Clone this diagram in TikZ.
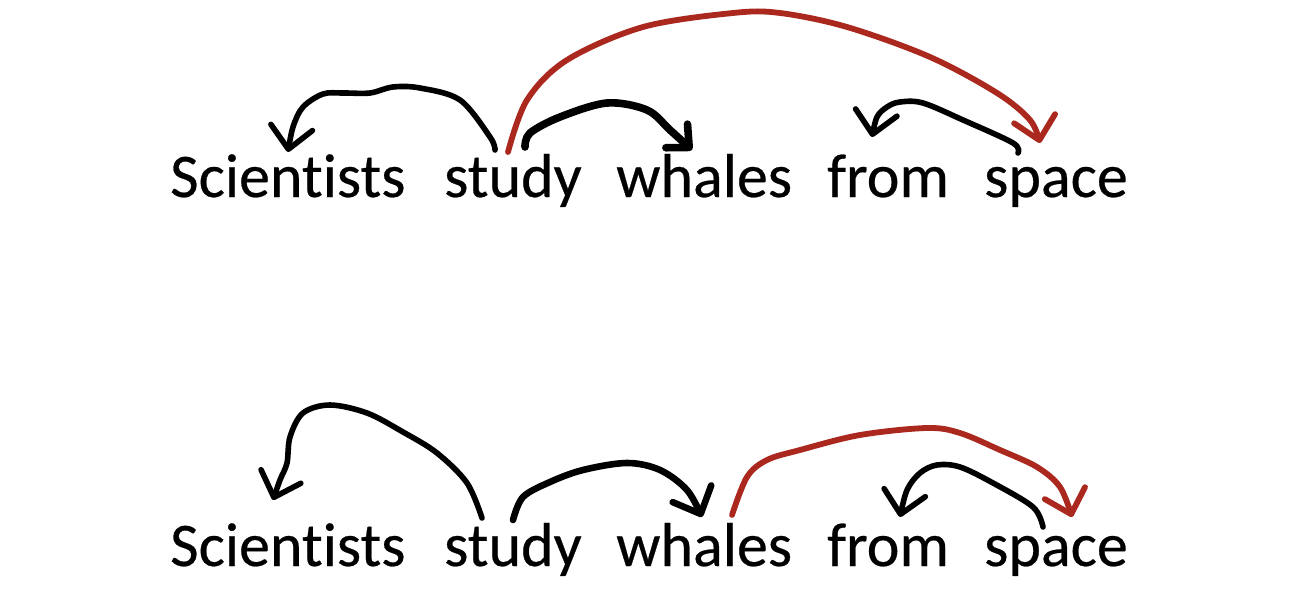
\documentclass[tikz,border=0pt]{standalone}
\usepackage{fontspec}
\setmainfont[Ligatures=NoCommon,FakeBold=0.4]{Carlito}
\usetikzlibrary{arrows.meta}
\definecolor{rootred}{RGB}{170,40,30}

\begin{document}
\begin{tikzpicture}[x=1pt,y=-1pt,
    word/.style ={anchor=base west, inner sep=0pt, font=\fontsize{62}{62}\selectfont},
    dep/.style ={line width=5.6pt, line cap=round, line join=round,
                 -{Straight Barb[round,length=22pt,width=42pt]}},
    rootdep/.style ={dep, rootred, line width=5.8pt}]
   \useasboundingbox (0,0) rectangle (1312,602);

   % first parse
   \node[word] (sci1)    at (170,197) {Scientists};
   \node[word] (study1)  at (444,197) {study};
   \node[word] (whales1) at (616,197) {whales};
   \node[word] (from1)   at (827,197) {from};
   \node[word] (space1)  at (984,197) {space};

   \coordinate (study1-l) at (495,150);
   \coordinate (study1-r) at (508,152);
   \coordinate (study1-w) at (525,147);
   \coordinate (sci1-in)    at (288,152);
   \coordinate (whales1-in) at (692,150);
   \coordinate (space1-in)  at (1040,143);
   \coordinate (space1-out) at (1018,153);
   \coordinate (from1-in)   at (872,137);

   \draw[dep] plot[smooth,tension=0.55] coordinates {(study1-l) (490,137) (460,100) (420,88)
      (393,87) (370,93) (343,93) (323,94) (303,107) (293,127) (sci1-in)};
   \draw[dep,line width=7.6pt,-{Straight Barb[round,length=17pt,width=32pt]}]
      plot[smooth,tension=0.55] coordinates {(study1-w) (530,133) (560,117) (607,103)
      (647,110) (670,130) (whales1-in)};
   \draw[rootdep] plot[smooth,tension=0.55] coordinates {(study1-r) (527,100) (567,60)
      (643,27) (733,13) (780,13) (847,27) (930,57) (997,93) (1030,120) (space1-in)};
   \draw[dep] plot[smooth,tension=0.55] coordinates {(space1-out) (1013,143) (963,120)
      (923,103) (900,102) (887,107) (877,117) (from1-in)};

   % second parse
   \node[word] (sci2)    at (170,566) {Scientists};
   \node[word] (study2)  at (444,566) {study};
   \node[word] (whales2) at (616,566) {whales};
   \node[word] (from2)   at (827,566) {from};
   \node[word] (space2)  at (984,566) {space};

   \coordinate (study2-l) at (482,518);
   \coordinate (study2-w) at (513,520);
   \coordinate (whales2-r) at (732,515);
   \coordinate (sci2-in)    at (273,500);
   \coordinate (whales2-in) at (702,517);
   \coordinate (space2-in)  at (1072,517);
   \coordinate (space2-out) at (1043,527);
   \coordinate (from2-in)   at (900,517);

   \draw[dep] plot[smooth,tension=0.55] coordinates {(study2-l) (467,483) (437,453) (403,432)
      (367,413) (330,405) (303,413) (290,437) (287,463) (280,480) (sci2-in)};
   \draw[dep,line width=6.6pt] plot[smooth,tension=0.55] coordinates {(study2-w) (523,497)
      (550,482) (583,470) (627,463) (660,470) (687,490) (whales2-in)};
   \draw[rootdep] plot[smooth,tension=0.55] coordinates {(whales2-r) (747,477) (767,460)
      (800,450) (860,435) (927,428) (960,433) (1000,450) (1037,467) (1060,487) (space2-in)};
   \draw[dep] plot[smooth,tension=0.55] coordinates {(space2-out) (1033,507) (993,483)
      (960,467) (937,465) (920,473) (907,490) (from2-in)};
 \end{tikzpicture}
\end{document}
